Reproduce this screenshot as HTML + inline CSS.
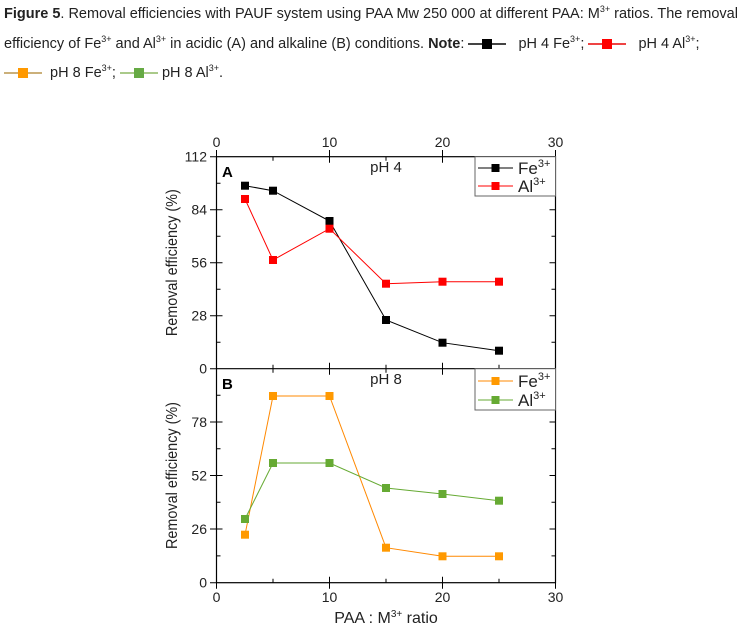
<!DOCTYPE html>
<html><head><meta charset="utf-8"><style>
body{margin:0;background:#fff;width:755px;height:630px;overflow:hidden}
.cap{position:absolute;left:4px;font-family:"Liberation Sans Narrow","Liberation Sans",sans-serif;font-size:14.5px;color:#222;white-space:nowrap}
sup{font-size:9px}
.mk{display:inline-block;vertical-align:middle;position:relative;width:38px;height:10px}
.mk i{position:absolute;left:0;right:0;top:4px;height:2px}
.mk b{position:absolute;left:14px;top:0;width:10px;height:10px}
</style></head><body>
<div class="cap" style="top:4px"><b>Figure 5</b>. Removal efficiencies with PAUF system using PAA Mw 250 000 at different PAA: M<sup>3+</sup> ratios. The removal</div>
<div class="cap" style="top:34px">efficiency of Fe<sup>3+</sup> and Al<sup>3+</sup> in acidic (A) and alkaline (B) conditions. <b>Note</b>: <span class="mk"><i style="background:#444"></i><b style="background:#000"></b></span> &nbsp; pH 4 Fe<sup>3+</sup>; <span class="mk"><i style="background:#e44"></i><b style="background:#f00"></b></span> &nbsp; pH 4 Al<sup>3+</sup>;</div>
<div class="cap" style="top:63px"><span class="mk"><i style="background:#cbb07a"></i><b style="background:#f90"></b></span> &nbsp;pH 8 Fe<sup>3+</sup>; <span class="mk"><i style="background:#aaca8a"></i><b style="background:#6a4"></b></span> pH 8 Al<sup>3+</sup>.</div>
<svg width="755" height="630" style="position:absolute;left:0;top:0" font-family="Liberation Sans,sans-serif" font-size="14" fill="#222">
<g stroke="#000" stroke-width="1.2" fill="none">
<rect x="216.5" y="156.7" width="339" height="426"/>
<line x1="216.5" y1="368.7" x2="555.5" y2="368.7"/>
</g>
<g stroke="#000" stroke-width="1">
<path d="M216.5 156.7v6M273 156.7v4M329.5 156.7v6M386 156.7v4M442.5 156.7v6M499 156.7v4
M273 368.7v4M329.5 368.7v6M386 368.7v4M442.5 368.7v6M499 368.7v4
M273 368.7v-4M329.5 368.7v-6M386 368.7v-4M442.5 368.7v-6M499 368.7v-4
M273 582.7v-4M329.5 582.7v-6M386 582.7v-4M442.5 582.7v-6M499 582.7v-4"/>
<path d="M216.5 209.7h6M216.5 262.7h6M216.5 315.7h6M216.5 183.2h4M216.5 236.2h4M216.5 289.2h4M216.5 342.2h4
M555.5 209.7h-6M555.5 262.7h-6M555.5 315.7h-6M555.5 183.2h-4M555.5 236.2h-4M555.5 289.2h-4M555.5 342.2h-4
M216.5 422h6M216.5 475.5h6M216.5 529h6M216.5 395.2h4M216.5 448.7h4M216.5 502.2h4M216.5 555.9h4
M555.5 422h-6M555.5 475.5h-6M555.5 529h-6M555.5 395.2h-4M555.5 448.7h-4M555.5 502.2h-4M555.5 555.9h-4
M210 156.7h6.5M210 209.7h6.5M210 262.7h6.5M210 315.7h6.5M210 368.7h6.5M210 422h6.5M210 475.5h6.5M210 529h6.5M210 582.7h6.5
M216.5 150v6.7M329.5 150v6.7M442.5 150v6.7M555.5 150v6.7
M216.5 582.7v6M329.5 582.7v6M442.5 582.7v6M555.5 582.7v6"/>
</g>
<g text-anchor="middle">
<text x="216.5" y="147">0</text><text x="329.5" y="147">10</text><text x="442.5" y="147">20</text><text x="555.5" y="147">30</text>
<text x="216.5" y="602">0</text><text x="329.5" y="602">10</text><text x="442.5" y="602">20</text><text x="555.5" y="602">30</text>
</g>
<g text-anchor="end">
<text x="207" y="161.5">112</text><text x="207" y="214.5">84</text><text x="207" y="267.5">56</text><text x="207" y="320.5">28</text><text x="207" y="373.5">0</text>
<text x="207" y="427">78</text><text x="207" y="480.5">52</text><text x="207" y="534">26</text><text x="207" y="587.5">0</text>
</g>
<text transform="translate(177,262.7) rotate(-90) scale(0.9,1)" text-anchor="middle" font-size="16">Removal efficiency (%)</text>
<text transform="translate(177,475.5) rotate(-90) scale(0.9,1)" text-anchor="middle" font-size="16">Removal efficiency (%)</text>
<text x="386" y="623" text-anchor="middle" font-size="16">PAA : M<tspan font-size="10" dy="-6">3+</tspan><tspan dy="6"> ratio</tspan></text>
<text x="222" y="177" font-weight="bold" font-size="15" fill="#000">A</text>
<text x="222" y="389" font-weight="bold" font-size="15" fill="#000">B</text>
<text x="386" y="172" text-anchor="middle" font-size="15">pH 4</text>
<text x="386" y="384" text-anchor="middle" font-size="15">pH 8</text>
<polyline fill="none" stroke="#000" stroke-width="1" points="245,185.7 273,190.7 329.5,221 386,320 442.5,342.7 499,350.7"/>
<polyline fill="none" stroke="#f00" stroke-width="1" points="245,199 273,260 329.5,228.7 386,283.7 442.5,281.7 499,281.7"/>
<g fill="#000"><rect x="241" y="181.7" width="8" height="8"/><rect x="269" y="186.7" width="8" height="8"/><rect x="325.5" y="217" width="8" height="8"/><rect x="382" y="316" width="8" height="8"/><rect x="438.5" y="338.7" width="8" height="8"/><rect x="495" y="346.7" width="8" height="8"/></g>
<g fill="#f00"><rect x="241" y="195" width="8" height="8"/><rect x="269" y="256" width="8" height="8"/><rect x="325.5" y="224.7" width="8" height="8"/><rect x="382" y="279.7" width="8" height="8"/><rect x="438.5" y="277.7" width="8" height="8"/><rect x="495" y="277.7" width="8" height="8"/></g>
<polyline fill="none" stroke="#f80" stroke-width="1" points="245,534.7 273,396 329.5,396 386,547.7 442.5,556.3 499,556.3"/>
<polyline fill="none" stroke="#6a3" stroke-width="1" points="245,519 273,463 329.5,463 386,488 442.5,494 499,500.7"/>
<g fill="#f90"><rect x="241" y="530.7" width="8" height="8"/><rect x="269" y="392" width="8" height="8"/><rect x="325.5" y="392" width="8" height="8"/><rect x="382" y="543.7" width="8" height="8"/><rect x="438.5" y="552.3" width="8" height="8"/><rect x="495" y="552.3" width="8" height="8"/></g>
<g fill="#6a3"><rect x="241" y="515" width="8" height="8"/><rect x="269" y="459" width="8" height="8"/><rect x="325.5" y="459" width="8" height="8"/><rect x="382" y="484" width="8" height="8"/><rect x="438.5" y="490" width="8" height="8"/><rect x="495" y="496.7" width="8" height="8"/></g>
<rect x="475" y="156.7" width="80.5" height="39.3" fill="#fff" stroke="#666"/>
<line x1="478" y1="168" x2="513" y2="168" stroke="#000"/><rect x="491.5" y="164" width="8" height="8" fill="#000"/>
<line x1="478" y1="186" x2="513" y2="186" stroke="#f00"/><rect x="491.5" y="182" width="8" height="8" fill="#f00"/>
<text x="518" y="174" font-size="17">Fe<tspan font-size="11" dy="-7">3+</tspan></text>
<text x="518" y="192" font-size="17">Al<tspan font-size="11" dy="-7">3+</tspan></text>
<rect x="475" y="368.7" width="80.5" height="41.3" fill="#fff" stroke="#666"/>
<line x1="478" y1="381" x2="513" y2="381" stroke="#f80"/><rect x="491.5" y="377" width="8" height="8" fill="#f90"/>
<line x1="478" y1="400" x2="513" y2="400" stroke="#6a3"/><rect x="491.5" y="396" width="8" height="8" fill="#6a3"/>
<text x="518" y="387" font-size="17">Fe<tspan font-size="11" dy="-7">3+</tspan></text>
<text x="518" y="406" font-size="17">Al<tspan font-size="11" dy="-7">3+</tspan></text>
</svg>
</body></html>
